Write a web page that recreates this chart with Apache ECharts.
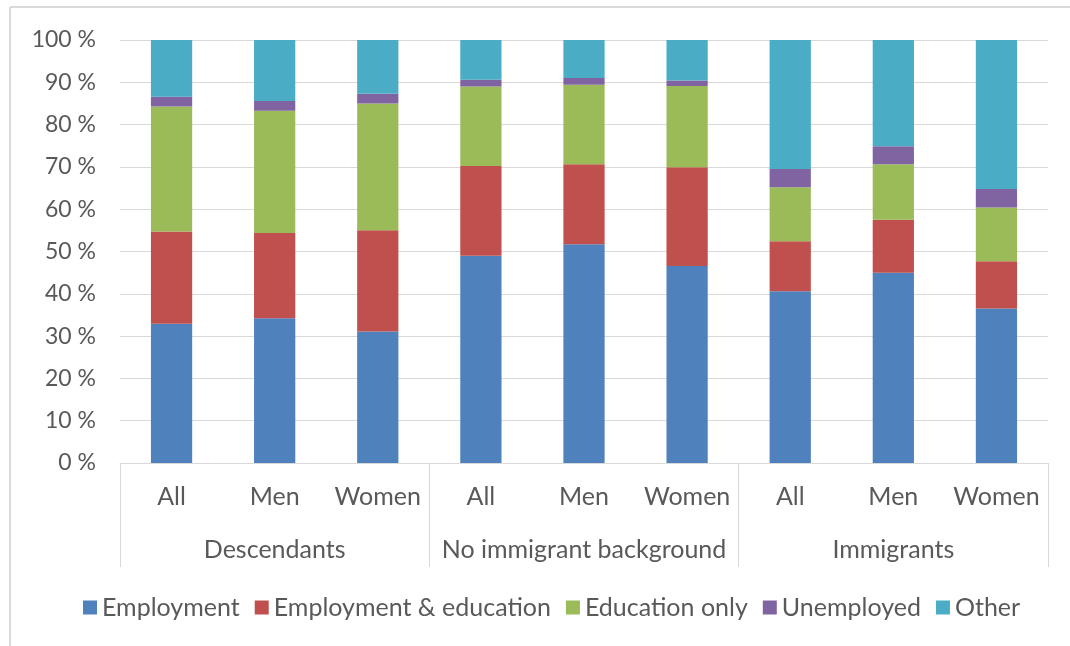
<!DOCTYPE html>
<html>
<head>
<meta charset="utf-8">
<script src="https://cdn.jsdelivr.net/npm/echarts@6/dist/echarts.min.js"></script>
<style>
html,body{margin:0;padding:0;background:#fff;}
#chart{width:1070px;height:646px;}
</style>
</head>
<body>
<div id="chart"></div>
<script>
const subCategories = ['All','Men','Women','All','Men','Women','All','Men','Women'];
const groups = ['Descendants','No immigrant background','Immigrants'];
const yTicks = [0,10,20,30,40,50,60,70,80,90,100];
const seriesNames = ['Employment','Employment & education','Education only','Unemployed','Other'];
const employment   = [32.9, 34.2, 31.1, 49.0, 51.7, 46.6, 40.6, 45.0, 36.5];
const empEducation = [21.8, 20.2, 23.9, 21.2, 18.9, 23.3, 11.8, 12.5, 11.2];
const educationOnly= [29.6, 28.9, 30.0, 18.8, 18.8, 19.2, 12.8, 13.1, 12.7];
const unemployed   = [ 2.3,  2.3,  2.3,  1.6,  1.6,  1.3,  4.3,  4.3,  4.4];
const other        = [13.4, 14.4, 12.7,  9.4,  9.0,  9.6, 30.5, 25.1, 35.2];
const colors = ['#4F81BD','#C0504D','#9BBB59','#8064A2','#4BACC6'];

const FONT = 'Lato';
const TXT = '#595959';
const LINE = '#d9d9d9';
const values = [employment, empEducation, educationOnly, unemployed, other];

const chart = echarts.init(document.getElementById('chart'), null, {renderer:'canvas'});
chart.setOption({
  animation:false,
  textStyle:{fontFamily:FONT},
  grid:{left:120,right:22,top:40,bottom:183,containLabel:false},
  legend:{
    bottom:21, left:78,
    itemWidth:14, itemHeight:14, itemGap:15,
    textStyle:{fontSize:25,color:TXT,fontFamily:FONT},
    data:seriesNames.map(n=>({name:n,icon:'rect'}))
  },
  xAxis:[
    {type:'category',data:subCategories,position:'bottom',
     axisLine:{show:true,lineStyle:{color:LINE,width:1}},
     axisTick:{show:false},
     axisLabel:{interval:0,fontSize:25,color:TXT,margin:21,fontFamily:FONT},
     splitLine:{show:false}},
    {type:'category',data:groups,position:'bottom',gridIndex:0,
     axisLine:{show:false},
     axisTick:{show:true,length:104,lineStyle:{color:LINE,width:1}},
     axisLabel:{interval:0,fontSize:25,color:TXT,margin:74,fontFamily:FONT},
     splitLine:{show:false}}
  ],
  yAxis:{type:'value',min:yTicks[0],max:yTicks[yTicks.length-1],interval:10,
    axisLine:{show:false},axisTick:{show:false},
    axisLabel:{formatter:'{value} %',fontSize:23,color:TXT,margin:24,fontFamily:FONT},
    splitLine:{lineStyle:{color:LINE,width:1}}},
  graphic:[
    {type:'line',shape:{x1:10,y1:7,x2:1070,y2:7},style:{stroke:LINE,lineWidth:2},silent:true},
    {type:'line',shape:{x1:10,y1:7,x2:10,y2:646},style:{stroke:LINE,lineWidth:2},silent:true}
  ],
  series:seriesNames.map((n,i)=>({
    name:n,type:'bar',stack:'total',xAxisIndex:0,barWidth:'40%',
    itemStyle:{color:colors[i]},
    data:values[i]
  }))
});
</script>
</body>
</html>
